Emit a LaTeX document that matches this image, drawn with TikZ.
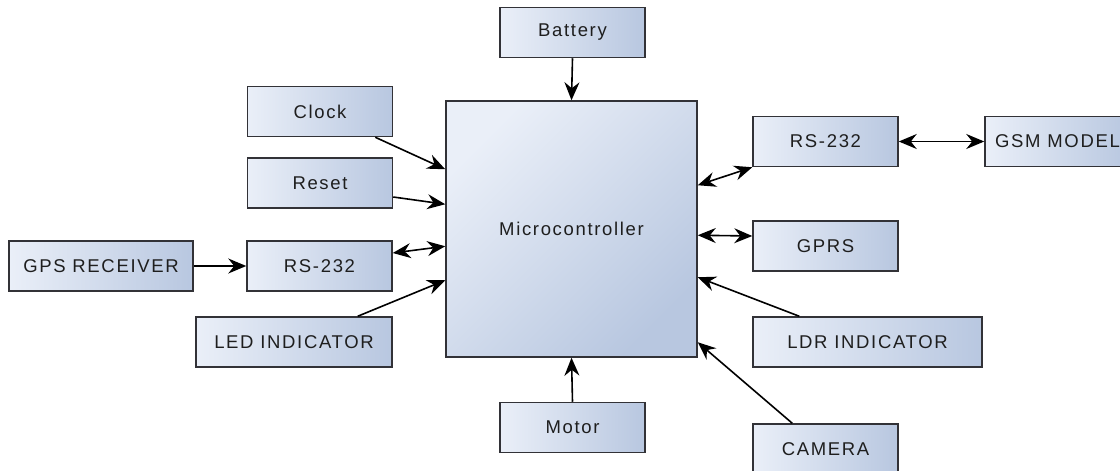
\documentclass[tikz,border=0pt]{standalone}
\usepackage{fontspec}
\setmainfont{Liberation Sans}[LetterSpace=9]
\usetikzlibrary{calc,arrows.meta}
\definecolor{boxL}{RGB}{234,239,248}
\definecolor{boxR}{RGB}{184,199,224}
\definecolor{edge}{RGB}{50,50,55}
\definecolor{txt}{RGB}{30,30,30}
\begin{document}
\begin{tikzpicture}[x=1pt,y=-1pt,
  blk/.style={draw=edge,line width=1.5pt,left color=boxL,right color=boxR,
    minimum width=145pt,minimum height=50pt,inner sep=0pt,text=txt,
    font=\fontsize{18.5}{22}\selectfont},
  tip/.tip={Stealth[length=18pt,width=15pt,inset=6pt]},
  arr/.style={line width=1.6pt,-tip},
  darr/.style={line width=1.6pt,tip-tip}]
\clip (0,0) rectangle (1120,471);
\fill[white] (0,0) rectangle (1120,471);
\node[blk] (battery) at (572.5,32.5) {Battery};
\node[blk,minimum width=251pt,minimum height=256pt,shading angle=45] (micro) at (571.5,229) {Microcontroller};
\node[blk] (clock) at (320,111.5) {Clock};
\node[blk] (reset) at (320,183) {Reset};
\node[blk,minimum width=184pt] (gps) at (101,266) {GPS RECEIVER};
\node[blk] (rsl) at (319.5,266) {RS-232};
\node[blk,minimum width=196pt] (led) at (294,342) {LED INDICATOR};
\node[blk] (rsr) at (825.5,141.5) {RS-232};
\node[blk] (gsm) at (1057.5,141.5) {GSM MODEL};
\node[blk] (gprs) at (825.5,246) {GPRS};
\node[blk,minimum width=229pt] (ldr) at (867.5,342) {LDR INDICATOR};
\node[blk] (camera) at (825.5,449) {CAMERA};
\node[blk] (motor) at (572.5,427.5) {Motor};
\draw[arr] (battery.south) -- (micro.north);
\draw[arr] (motor.north) -- (micro.south);
\draw[arr] ($(clock.south east)+(-18,0)$) -- ($(micro.north west)+(0,69)$);
\draw[arr] ($(reset.east)+(0,14)$) -- ($(micro.north west)+(0,104)$);
\draw[arr] (gps.east) -- (rsl.west);
\draw[darr] ($(rsl.east)+(0,-13)$) -- ($(micro.north west)+(0,146)$);
\draw[arr] ($(led.north east)+(-35,0)$) -- ($(micro.north west)+(0,180)$);
\draw[darr] ($(micro.north east)+(0,85)$) -- (rsr.south west);
\draw[darr] (rsr.east) -- (gsm.west);
\draw[darr] ($(micro.north east)+(0,135)$) -- ($(gprs.west)+(0,-10)$);
\draw[arr] ($(ldr.north west)+(47,0)$) -- ($(micro.north east)+(0,177)$);
\draw[arr] ($(camera.north west)+(40,0)$) -- ($(micro.north east)+(0,242)$);
\end{tikzpicture}
\end{document}
